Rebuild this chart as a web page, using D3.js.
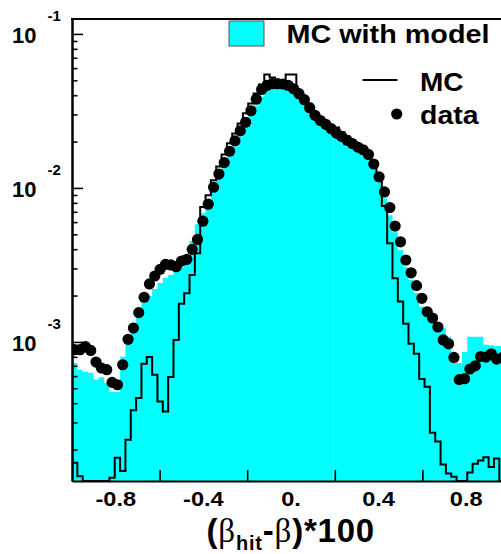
<!DOCTYPE html>
<html>
<head>
<meta charset="utf-8">
<script src="https://cdn.jsdelivr.net/npm/d3@7"></script>
<style>
  body { margin: 0; background: #fff; }
  svg { display: block; }
  text { font-family: "Liberation Sans", Arial, Helvetica, sans-serif; font-weight: bold; fill: #000; }
</style>
</head>
<body>
<script>
// Histogram binning of (beta_hit - beta)*100
const xMin = -1, xMax = 1, nBins = 82;

// Simulation including the model (filled histogram)
const mcModel = [
  7.3e-4, 6.6e-4, 6.4e-4, 6.3e-4, 5.7e-4, 5.9e-4, 5.4e-4, 4.75e-4, 4.75e-4, 8.0e-4,
  1.03e-3, 1.27e-3, 1.61e-3, 1.82e-3, 1.99e-3, 2.21e-3, 2.41e-3, 2.60e-3, 2.72e-3, 2.84e-3,
  3.06e-3, 3.30e-3, 4.52e-3, 5.82e-3, 6.86e-3, 8.20e-3, 9.81e-3, 1.17e-2, 1.38e-2, 1.60e-2,
  1.86e-2, 2.16e-2, 2.51e-2, 2.96e-2, 3.43e-2, 3.93e-2, 4.29e-2, 4.42e-2, 4.49e-2, 4.49e-2,
  4.42e-2, 4.23e-2, 3.93e-2, 3.59e-2, 3.19e-2, 2.87e-2, 2.66e-2, 2.51e-2, 2.36e-2, 2.23e-2,
  2.13e-2, 2.04e-2, 1.95e-2, 1.84e-2, 1.73e-2, 1.56e-2, 1.34e-2, 1.09e-2, 8.57e-3, 6.65e-3,
  5.16e-3, 3.95e-3, 3.06e-3, 2.52e-3, 2.08e-3, 1.69e-3, 1.54e-3, 1.43e-3, 1.23e-3, 1.23e-3,
  1.08e-3, 7.3e-4, 7.3e-4, 8.6e-4, 1.08e-3, 1.08e-3, 1.08e-3, 9.6e-4, 9.5e-4, 9.4e-4,
  9.4e-4, 9.4e-4
];

// Plain simulation (open step histogram)
const mc = [
  1.64e-4, 1.34e-4, 0, 0, 0, 0, 0, 1.31e-4, 1.77e-4, 1.45e-4,
  2.32e-4, 3.60e-4, 4.33e-4, 7.21e-4, 7.97e-4, 6.12e-4, 4.11e-4, 3.54e-4, 5.92e-4, 1.03e-3,
  1.77e-3, 2.07e-3, 2.72e-3, 3.76e-3, 7.53e-3, 8.97e-3, 1.12e-2, 1.38e-2, 1.65e-2, 1.95e-2,
  2.26e-2, 2.62e-2, 3.05e-2, 3.54e-2, 4.11e-2, 4.70e-2, 5.45e-2, 5.21e-2, 4.99e-2, 4.99e-2,
  5.45e-2, 5.45e-2, 4.29e-2, 3.81e-2, 3.38e-2, 3.05e-2, 2.79e-2, 2.62e-2, 2.47e-2, 2.47e-2,
  2.30e-2, 2.16e-2, 2.04e-2, 1.92e-2, 1.81e-2, 1.63e-2, 1.40e-2, 1.12e-2, 7.62e-3, 4.37e-3,
  2.59e-3, 1.83e-3, 1.31e-3, 9.72e-4, 8.37e-4, 5.74e-4, 5.12e-4, 2.57e-4, 2.26e-4, 1.60e-4,
  1.40e-4, 1.33e-4, 0, 0, 1.42e-4, 1.62e-4, 1.70e-4, 1.78e-4, 1.54e-4, 1.75e-4,
  0, 0
];

// Measured data (points)
const dataPts = [
  8.9e-4, 8.9e-4, 9.33e-4, 8.80e-4, 7.40e-4, 6.77e-4, 6.60e-4, 5.46e-4, 5.27e-4, 7.11e-4,
  1.04e-3, 1.23e-3, 1.55e-3, 1.95e-3, 2.38e-3, 2.68e-3, 2.96e-3, 3.19e-3, 3.16e-3, 3.08e-3,
  3.35e-3, 3.44e-3, 3.99e-3, 4.63e-3, 6.08e-3, 7.84e-3, 1.01e-2, 1.23e-2, 1.46e-2, 1.73e-2,
  2.02e-2, 2.35e-2, 2.67e-2, 3.17e-2, 3.77e-2, 4.36e-2, 4.63e-2, 4.75e-2, 4.75e-2, 4.73e-2,
  4.63e-2, 4.40e-2, 4.09e-2, 3.74e-2, 3.32e-2, 2.96e-2, 2.74e-2, 2.59e-2, 2.43e-2, 2.27e-2,
  2.16e-2, 2.04e-2, 1.94e-2, 1.84e-2, 1.77e-2, 1.65e-2, 1.43e-2, 1.18e-2, 9.42e-3, 7.46e-3,
  5.65e-3, 4.47e-3, 3.40e-3, 2.81e-3, 2.32e-3, 1.92e-3, 1.57e-3, 1.43e-3, 1.25e-3, 1.03e-3,
  9.72e-4, 7.93e-4, 5.69e-4, 5.77e-4, 6.67e-4, 7.00e-4, 8.04e-4, 7.97e-4, 8.37e-4, 7.74e-4,
  7.9e-4, 7.6e-4
];

const xTickVals = [-0.6, -0.2, 0.2, 0.6];
const xLabelVals = [-0.8, -0.4, 0, 0.4, 0.8];
const xLabelText = ["-0.8", "-0.4", "0.", "0.4", "0.8"];
const yDecades = [1e-1, 1e-2, 1e-3];
const yDecadeExp = ["-1", "-2", "-3"];
const legendLabels = ["MC with model", "MC", "data"];

const W = 501, H = 554;
const padL = 72, padT = 19, padB = 481, padR = 510;

const x = d3.scaleLinear().domain([xMin, xMax]).range([padL, padR]);
const y = d3.scaleLog().domain([1.25e-4, 0.125]).range([padB, padT]);
const yFloor = y.domain()[0];
const yv = v => y(Math.max(v, yFloor));

const svg = d3.select("body").append("svg")
  .attr("width", W).attr("height", H)
  .style("background", "#fff");

svg.append("defs").append("clipPath").attr("id", "plotClip")
  .append("rect").attr("x", padL).attr("y", padT)
  .attr("width", padR - padL).attr("height", padB - padT);

const plot = svg.append("g").attr("clip-path", "url(#plotClip)");

const binW = (xMax - xMin) / nBins;
const edges = d3.range(nBins + 1).map(i => xMin + i * binW);

function stepPoints(vals, from, to) {
  const pts = [];
  for (let i = from; i < to; i++) {
    pts.push([edges[i], vals[i]], [edges[i + 1], vals[i]]);
  }
  return pts;
}

// widen a text element horizontally by a factor
function stretch(sel, factor) {
  const w = sel.node().getComputedTextLength();
  sel.attr("textLength", w * factor).attr("lengthAdjust", "spacingAndGlyphs");
  return sel;
}

// filled histogram, painted as two panels
const area = d3.area().x(d => x(d[0])).y0(y(yFloor)).y1(d => yv(d[1]));
[[0, 49], [49, nBins]].forEach(([a, b]) => {
  plot.append("path")
    .attr("d", area(stepPoints(mcModel, a, b)))
    .attr("fill", "#00ffff");
});

// open step histogram
const line = d3.line().x(d => x(d[0])).y(d => yv(d[1]));
plot.append("path")
  .attr("d", line(stepPoints(mc, 0, nBins)))
  .attr("fill", "none")
  .attr("stroke", "#000")
  .attr("stroke-width", 2);

// data points at bin centres
plot.selectAll("circle.pt").data(dataPts).join("circle")
  .attr("class", "pt")
  .attr("cx", (d, i) => x(xMin + (i + 0.5) * binW))
  .attr("cy", d => y(d))
  .attr("r", 5.6)
  .attr("fill", "#000");

// y axis: decade ticks and minor ticks
const minorTicks = [];
[1e-4, 1e-3, 1e-2, 1e-1].forEach(dec => {
  for (let k = 2; k <= 9; k++) {
    const v = k * dec;
    if (v > y.domain()[0] && v < y.domain()[1]) minorTicks.push(v);
  }
});
const yMajorAxis = d3.axisRight(y).tickValues(yDecades).tickSize(11).tickSizeOuter(0).tickFormat("");
const yMinorAxis = d3.axisRight(y).tickValues(minorTicks).tickSize(5.5).tickSizeOuter(0).tickFormat("");
const gyMinor = svg.append("g").attr("transform", `translate(${padL},0)`).call(yMinorAxis);
const gyMajor = svg.append("g").attr("transform", `translate(${padL},0)`).call(yMajorAxis);
[gyMinor, gyMajor].forEach(g => {
  g.selectAll(".tick line").attr("stroke", "#000").attr("stroke-width", 1.6);
  g.select(".domain").attr("stroke", "#000").attr("stroke-width", 2);
});

// x axis
const xAxis = d3.axisTop(x).tickValues(xTickVals).tickSize(11).tickSizeOuter(0).tickFormat("");
const gx = svg.append("g").attr("transform", `translate(0,${padB})`).call(xAxis);
gx.selectAll(".tick line").attr("stroke", "#000").attr("stroke-width", 1.6);
gx.select(".domain").attr("stroke", "#000").attr("stroke-width", 2);

// top frame line
svg.append("line")
  .attr("x1", padL - 1).attr("x2", padR).attr("y1", padT).attr("y2", padT)
  .attr("stroke", "#000").attr("stroke-width", 2);

// y tick labels: 10 with exponent
yDecades.forEach((v, i) => {
  const yy = y(v);
  svg.append("text").attr("x", 36.5).attr("y", yy + 9.5)
    .attr("text-anchor", "end").style("font-size", "22px").text("10");
  svg.append("text").attr("x", 47.5).attr("y", yy - 12.7)
    .attr("text-anchor", "start").style("font-size", "15px").text(yDecadeExp[i]);
});

// x tick labels
xLabelVals.forEach((v, i) => {
  const t = svg.append("text").attr("x", x(v)).attr("y", 506)
    .attr("text-anchor", "middle").style("font-size", "20px")
    .text(xLabelText[i]);
  stretch(t, 1.18);
});

// x axis title
const title = svg.append("text").attr("x", 206.5).attr("y", 541.7)
  .attr("text-anchor", "start").style("font-size", "33px")
  .style("letter-spacing", "0.8px");
title.append("tspan").text("(");
title.append("tspan").style("font-family", "'Liberation Serif', 'Times New Roman', serif").style("font-weight", "normal").text("β");
title.append("tspan").attr("dy", 8).style("font-size", "20px").text("hit");
title.append("tspan").attr("dy", -8).text("-");
title.append("tspan").style("font-family", "'Liberation Serif', 'Times New Roman', serif").style("font-weight", "normal").text("β");
title.append("tspan").text(")*100");

// legend
svg.append("rect").attr("x", 229).attr("y", 21).attr("width", 35).attr("height", 25)
  .attr("fill", "#00ffff").attr("stroke", "#555").attr("stroke-width", 1);
svg.append("text").attr("x", 286.5).attr("y", 43.3).style("font-size", "25.5px")
  .attr("textLength", 203).attr("lengthAdjust", "spacingAndGlyphs")
  .text(legendLabels[0]);
svg.append("line").attr("x1", 362.5).attr("x2", 397.5).attr("y1", 80).attr("y2", 80)
  .attr("stroke", "#000").attr("stroke-width", 2);
svg.append("text").attr("x", 420).attr("y", 90.7).style("font-size", "26px")
  .attr("textLength", 43.5).attr("lengthAdjust", "spacingAndGlyphs")
  .text(legendLabels[1]);
svg.append("circle").attr("cx", 396.7).attr("cy", 114).attr("r", 5.6).attr("fill", "#000");
svg.append("text").attr("x", 420).attr("y", 124).style("font-size", "26px")
  .attr("textLength", 58.5).attr("lengthAdjust", "spacingAndGlyphs")
  .text(legendLabels[2]);
</script>
</body>
</html>
